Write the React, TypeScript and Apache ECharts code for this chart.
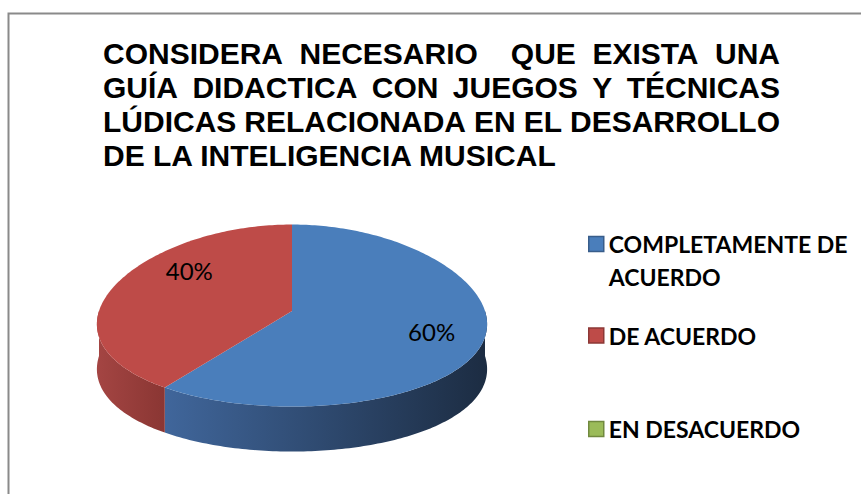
import React, { useEffect, useRef } from "react";
import * as echarts from "echarts";

const categories = ["COMPLETAMENTE DE ACUERDO", "DE ACUERDO", "EN DESACUERDO"];
const values = [60, 40, 0];
const titleLines = [
  "CONSIDERA NECESARIO  QUE EXISTA UNA",
  "GUÍA DIDACTICA CON JUEGOS Y TÉCNICAS",
  "LÚDICAS RELACIONADA EN EL DESARROLLO",
  "DE LA INTELIGENCIA MUSICAL",
];
const legendLabels = ["\nCOMPLETAMENTE DE\nACUERDO", "DE ACUERDO", "EN DESACUERDO"];

const topColors = ["#4a7ebb", "#be4b48", "#9bbb59"];
const borderColors = ["#385d8a", "#8c3836", "#71893f"];
const sideColors = [
  ["#40669b", "#1c2c42"],
  ["#a44543", "#8a3633"],
  ["#7f9a48", "#5e7335"],
];
const labelNudge = [
  [3, 0],
  [25, -20],
  [0, 0],
];

const CX = 292;
const CY = 311;
const RX = 193;
const RY = 91;
const DEPTH = 45;
const KX = 0.15;
const KY = 0.05;

function pt(theta: number, drop: number, r = 1): number[] {
  const u = Math.sin(theta) * r;
  const v = -Math.cos(theta) * r;
  return [CX + RX * u * (1 + KX * v), CY + RY * v * (1 + KY * v) + drop];
}

function arcPoints(a: number, b: number, drop: number): number[][] {
  const pts: number[][] = [];
  const n = Math.max(2, Math.ceil(((b - a) * 180) / Math.PI));
  for (let k = 0; k <= n; k++) pts.push(pt(a + ((b - a) * k) / n, drop));
  return pts;
}

export default function App() {
  const ref = useRef<HTMLDivElement>(null);
  useEffect(() => {
    if (!ref.current) return;
    const chart = echarts.init(ref.current, undefined, { renderer: "svg" });
    const total = values.reduce((s, v) => s + v, 0);

    const canvas = document.createElement("canvas");
    const ctx = canvas.getContext("2d")!;
    const titleFont = 'bold 30px "Liberation Sans"';
    ctx.font = titleFont;
    const measure = (s: string) => ctx.measureText(s).width;
    const left = 103;
    const right = 780;
    const caps = [52, 86, 120, 154];
    const titleGraphics: any[] = [];
    const textStyle = (text: string) => ({
      text,
      fontFamily: "Liberation Sans",
      fontWeight: "bold",
      fontSize: 30,
      fill: "#000",
      verticalAlign: "middle",
      align: "left",
    });
    titleLines.forEach((line, li) => {
      const y = caps[li] + 1;
      if (li === titleLines.length - 1) {
        titleGraphics.push({ type: "text", x: left, y, style: textStyle(line) });
        return;
      }
      const words = line.split(" ");
      const W = words.reduce((s, w) => s + measure(w), 0);
      const gap = (right - left - W) / (words.length - 1);
      let x = left;
      words.forEach((w) => {
        if (w.length) titleGraphics.push({ type: "text", x, y, style: textStyle(w) });
        x += measure(w) + gap;
      });
    });

    const series = categories.map((name, i) => ({
      type: "custom",
      name,
      coordinateSystem: "none",
      itemStyle: { color: topColors[i], borderColor: borderColors[i] },
      data: [[values[i]]],
      renderItem: (params: any, api: any) => {
        const v = api.value(0);
        if (!v || !total) return { type: "group", children: [] };
        const before = values.slice(0, i).reduce((s, x) => s + x, 0);
        const a = (before / total) * Math.PI * 2;
        const b = ((before + v) / total) * Math.PI * 2;
        const children: any[] = [];
        const sa = Math.max(a, Math.PI / 2);
        const sb = Math.min(b, (Math.PI * 3) / 2);
        if (sb > sa) {
          const topEdge = arcPoints(sa, sb, 0);
          const botEdge = arcPoints(sa, sb, DEPTH).reverse();
          children.push({
            type: "polygon",
            z2: 0,
            shape: { points: topEdge.concat(botEdge) },
            style: {
              fill: new echarts.graphic.LinearGradient(0, 0, 1, 0, [
                { offset: 0, color: sideColors[i][0] },
                { offset: 1, color: sideColors[i][1] },
              ]),
            },
          });
        }
        const topPts = [[CX, CY]].concat(arcPoints(a, b, 0));
        children.push({
          type: "polygon",
          z2: 10,
          shape: { points: topPts },
          style: { fill: topColors[i] },
        });
        const mid = (a + b) / 2;
        const lp = pt(mid, 0, 0.72);
        children.push({
          type: "text",
          z2: 20,
          x: lp[0] + labelNudge[i][0],
          y: lp[1] + labelNudge[i][1],
          style: {
            text: Math.round((v / total) * 100) + "%",
            fontFamily: "Lato",
            fontSize: 24,
            fill: "#000",
            align: "center",
            verticalAlign: "middle",
          },
        });
        return { type: "group", children };
      },
    }));

    const legendTops = [194.5, 319, 412.5];
    const legend = categories.map((name, i) => ({
      data: [{ name, itemStyle: { color: topColors[i], borderColor: borderColors[i], borderWidth: 1.5 } }],
      left: 588,
      top: legendTops[i],
      padding: 0,
      orient: "vertical",
      icon: "rect",
      itemWidth: 15,
      itemHeight: 15,
      selectedMode: false,
      formatter: () => legendLabels[i],
      textStyle: {
        fontFamily: "Lato",
        fontWeight: "bold",
        fontSize: 23,
        color: "#000",
        lineHeight: 33,
      },
    }));

    chart.setOption({
      animation: false,
      backgroundColor: "#fff",
      legend,
      series,
      graphic: [
        {
          type: "rect",
          shape: { x: 8.5, y: 13.5, width: 1000, height: 700 },
          style: { fill: "none", stroke: "#8a8a8a", lineWidth: 2 },
          silent: true,
        },
        ...titleGraphics,
      ],
    });
    return () => chart.dispose();
  }, []);
  return (
    <div
      ref={ref}
      style={{ position: "fixed", left: 0, top: 0, width: 861, height: 494 }}
    />
  );
}
